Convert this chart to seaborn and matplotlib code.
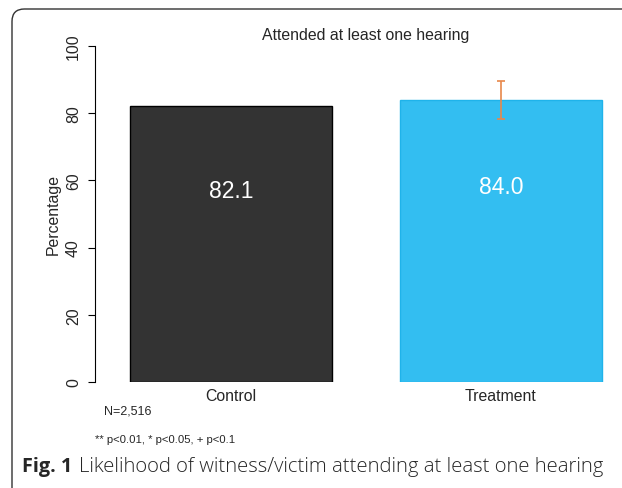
import matplotlib
matplotlib.use("Agg")
import matplotlib.pyplot as plt
import seaborn as sns
import pandas as pd
from matplotlib.patches import FancyBboxPatch

categories = ["Control", "Treatment"]
values = [82.1, 84.0]
err_low = [None, 78.4]
err_high = [None, 89.6]
yticks = [0, 20, 40, 60, 80, 100]
title = "Attended at least one hearing"
ylabel = "Percentage"
note_n = "N=2,516"
note_p = "** p<0.01, * p<0.05, + p<0.1"
caption_bold = "Fig. 1"
caption_text = "Likelihood of witness/victim attending at least one hearing"

fill_colors = ["#333333", "#33bef1"]
edge_colors = ["#000000", "#1fb3ea"]

sns.set_style("white")
plt.rcParams["font.family"] = ["Liberation Sans", "DejaVu Sans"]

W, H = 622, 489
fig = plt.figure(figsize=(W / 100, H / 100), dpi=100)

left_px, right_px, top_px, bot_px = 95, 637, 47, 383
ax = fig.add_axes([left_px / W, 1 - bot_px / H, (right_px - left_px) / W, (bot_px - top_px) / H])

df = pd.DataFrame({"cat": categories, "val": values})
sns.barplot(data=df, x="cat", y="val", hue="cat", palette=fill_colors, legend=False,
            width=0.75, ax=ax, saturation=1)
for patch, ec in zip(ax.patches, edge_colors):
    patch.set_edgecolor(ec)
    patch.set_linewidth(1.0)

for i, (lo, hi) in enumerate(zip(err_low, err_high)):
    if lo is None:
        continue
    ax.vlines(i, lo, hi, color="#e8874a", lw=1.2, zorder=5)
    ax.hlines([lo, hi], i - 0.016, i + 0.016, color="#e8874a", lw=1.2, zorder=5)

for i, v in enumerate(values):
    ax.text(i, v * 0.7 - 0.6, f"{v:.1f}", ha="center", va="center", color="white", fontsize=16.5)

fs = 11.4
ax.set_xlim(-0.505, 1.505)
ax.set_ylim(0, 100)
ax.set_yticks(yticks)
ax.set_yticklabels([str(t) for t in yticks], rotation=90, va="center", fontsize=fs)
ax.tick_params(axis="y", length=5, width=0.8, color="black", pad=5, left=True)
ax.tick_params(axis="x", length=0, pad=4, labelsize=fs)
ax.set_xlabel("")
ax.set_ylabel(ylabel, fontsize=fs, labelpad=4)
ax.set_title(title, fontsize=fs, pad=5, x=0.5)
for s in ["top", "right", "bottom"]:
    ax.spines[s].set_visible(False)
ax.spines["left"].set_color("black")
ax.spines["left"].set_linewidth(0.8)
ax.spines["left"].set_bounds(0, 100)

fig.text(104 / W, 1 - 411 / H, note_n, fontsize=9, va="center", ha="left")
fig.text(95 / W, 1 - 440 / H, note_p, fontsize=8.2, va="center", ha="left")

fig.text(22 / W, 1 - 467 / H, caption_bold, fontsize=14.3, fontweight="bold",
         family=["Open Sans", "DejaVu Sans"], va="center", ha="left")
fig.text(79 / W, 1 - 467 / H, caption_text, fontsize=14.6, fontweight="light",
         family=["Open Sans", "DejaVu Sans"], va="center", ha="left")

frame = FancyBboxPatch((12 / W, -0.1), 1.2, 1 - 10 / H + 0.1,
                       boxstyle="round,pad=0,rounding_size=0.02",
                       transform=fig.transFigure, fill=False, edgecolor="#333333",
                       lw=1.0, mutation_aspect=W / H)
fig.patches.append(frame)

fig.savefig("out.png", dpi=100)
